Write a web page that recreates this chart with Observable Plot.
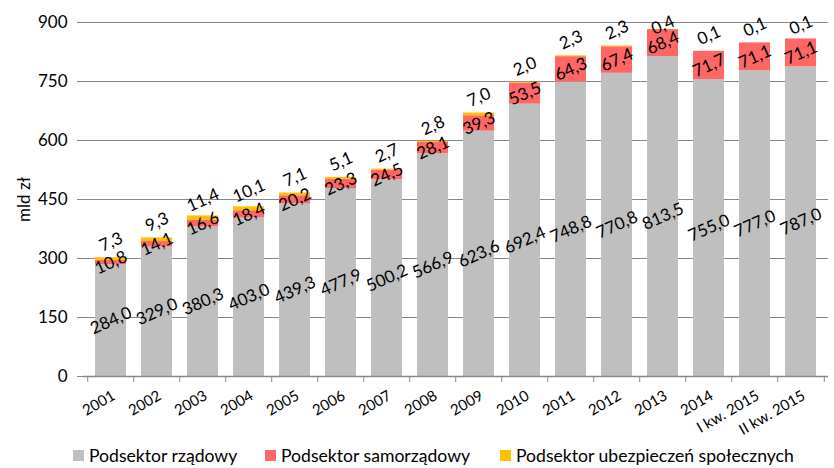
<!DOCTYPE html>
<html>
<head>
<meta charset="utf-8">
<script src="https://cdn.jsdelivr.net/npm/d3@7"></script>
<script src="https://cdn.jsdelivr.net/npm/@observablehq/plot@0.6"></script>
<style>
  body { margin: 0; background: #fff; font-family: Lato, "Open Sans", sans-serif; }
  #legend { height: 28px; font-size: 17.6px; color: #000; position: relative; }
  .item { position: absolute; display: flex; align-items: center; }
  .sw { width: 11px; height: 11px; margin-right: 5px; }
</style>
</head>
<body>
<div id="chart"></div>
<div id="legend"></div>
<script>
const categories = ["2001","2002","2003","2004","2005","2006","2007","2008","2009","2010","2011","2012","2013","2014","I kw. 2015","II kw. 2015"];
const rzadowy = [284.0,329.0,380.3,403.0,439.3,477.9,500.2,566.9,623.6,692.4,748.8,770.8,813.5,755.0,777.0,787.0];
const samorzadowy = [10.8,14.1,16.6,18.4,20.2,23.3,24.5,28.1,39.3,53.5,64.3,67.4,68.4,71.7,71.1,71.1];
const ubezpieczen = [7.3,9.3,11.4,10.1,7.1,5.1,2.7,2.8,7.0,2.0,2.3,2.3,0.4,0.1,0.1,0.1];
const seriesNames = ["Podsektor rządowy","Podsektor samorządowy","Podsektor ubezpieczeń społecznych"];
const colors = ["#BFBFBF","#FF6666","#FFC000"];
const yTicks = [0,150,300,450,600,750,900];

const fmt = v => v.toFixed(1).replace(".", ",");
const seriesArrays = [rzadowy, samorzadowy, ubezpieczen];
const long = categories.flatMap((c, i) => seriesNames.map((s, k) => ({cat: c, series: s, value: seriesArrays[k][i]})));
const govLabels = categories.map((c, i) => ({cat: c, y: rzadowy[i] / 2, text: fmt(rzadowy[i])}));
const localLabels = categories.map((c, i) => ({cat: c, y: rzadowy[i] + samorzadowy[i] / 2, text: fmt(samorzadowy[i])}));
const socialLabels = categories.map((c, i) => ({cat: c, y: rzadowy[i] + samorzadowy[i] + ubezpieczen[i], text: fmt(ubezpieczen[i])}));

const W = 834, H = 440, mL = 83, mR = 6, mT = 22, mB = 64;
const step = (W - mL - mR) / categories.length;
const gray = "#878787";

const chart = Plot.plot({
  width: W, height: H,
  marginLeft: mL, marginRight: mR, marginTop: mT, marginBottom: mB,
  style: {fontFamily: "Lato, 'Open Sans', sans-serif", fontSize: "15px", color: "#000", background: "#fff"},
  x: {domain: categories, paddingInner: 0.33, paddingOuter: 0.165, label: null},
  y: {domain: [0, 900], label: null},
  color: {domain: seriesNames, range: colors},
  marks: [
    Plot.gridY(yTicks, {stroke: gray, strokeOpacity: 1}),
    Plot.barY(long, {x: "cat", y: "value", fill: "series", order: seriesNames}),
    Plot.ruleY([0], {stroke: gray, strokeWidth: 1.5}),
    Plot.ruleX(categories, {x: d => d, y1: 0, y2: -15, dx: -step / 2, stroke: gray, clip: false}),
    Plot.ruleX([categories[categories.length - 1]], {x: d => d, y1: 0, y2: -15, dx: step / 2, stroke: gray}),
    Plot.axisY({ticks: yTicks, tickSize: 6, tickPadding: 10, fontSize: 17, stroke: gray, line: true, label: "mld zł", labelAnchor: "center", labelArrow: "none", labelOffset: 66}),
    Plot.axisX({tickSize: 0, tickRotate: -30, tickPadding: 18, fontSize: 15, dx: 3, label: null}),
    Plot.text(govLabels, {x: "cat", y: "y", text: "text", rotate: -24, fontSize: 17, fill: "#000"}),
    Plot.text(localLabels, {x: "cat", y: "y", text: "text", rotate: -24, fontSize: 17, fill: "#000"}),
    Plot.text(socialLabels, {x: "cat", y: d => Math.min(d.y + 40, 893), text: "text", rotate: -24, fontSize: 17, fill: "#000"})
  ]
});
document.getElementById("chart").appendChild(chart);

const legend = document.getElementById("legend");
const lx = [73, 265, 500];
seriesNames.forEach((s, k) => {
  const it = document.createElement("div");
  it.className = "item";
  it.style.left = lx[k] + "px";
  it.style.top = "5px";
  const sw = document.createElement("span");
  sw.className = "sw";
  sw.style.background = colors[k];
  const t = document.createElement("span");
  t.textContent = s;
  it.appendChild(sw); it.appendChild(t);
  legend.appendChild(it);
});
</script>
</body>
</html>
